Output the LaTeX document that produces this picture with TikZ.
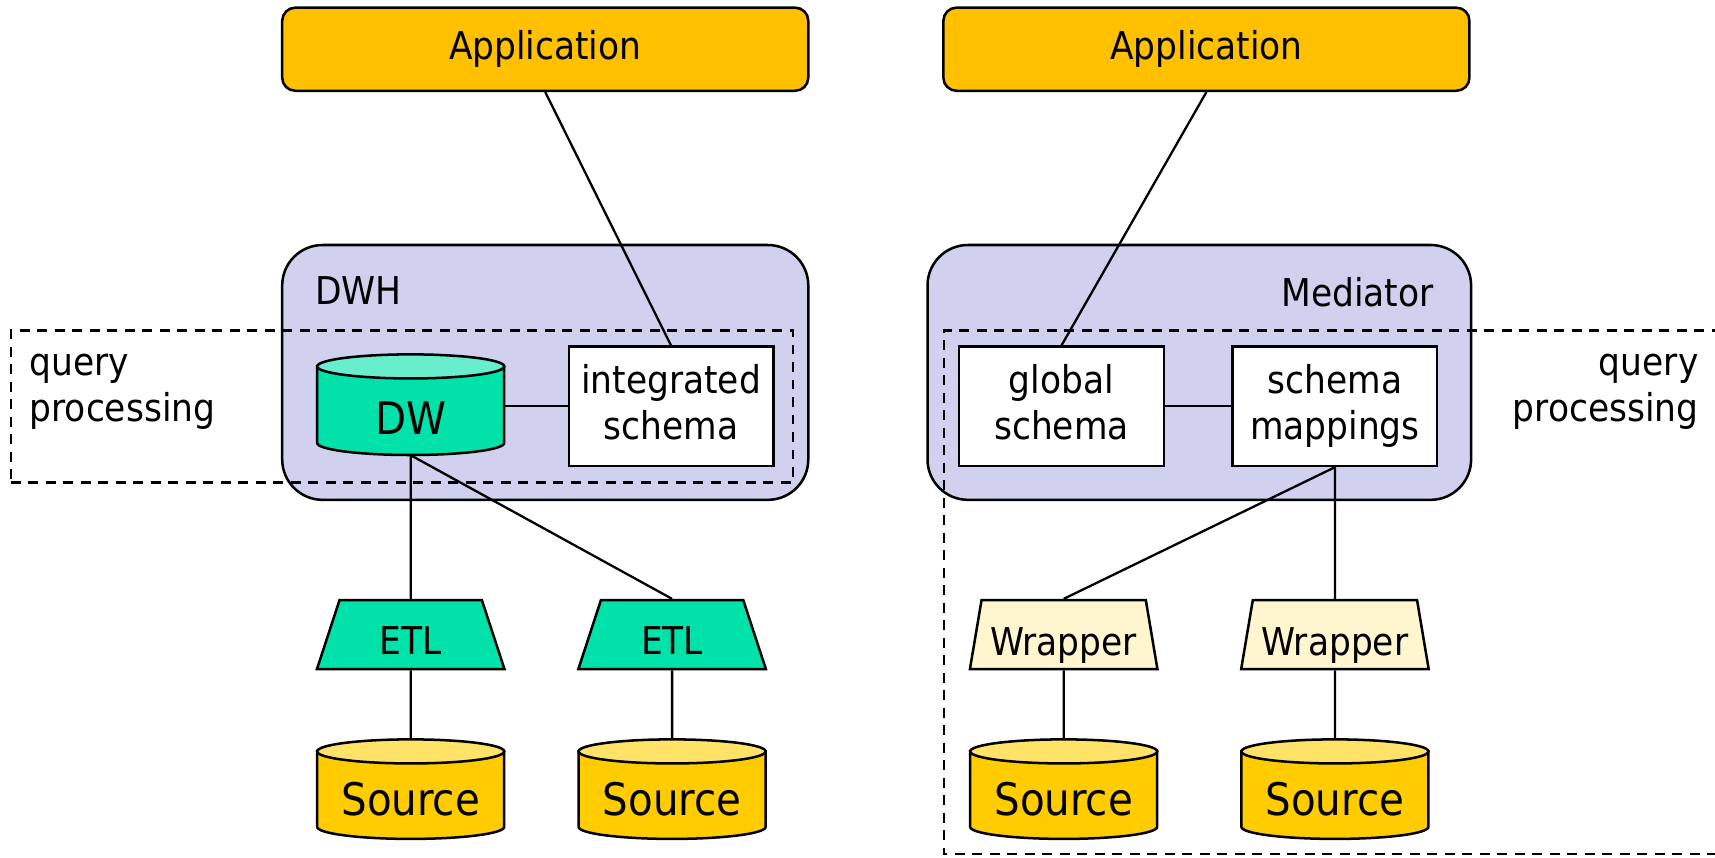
\documentclass[tikz,border=0pt]{standalone}
\usepackage{fontspec}
\setmainfont{DejaVu Sans Condensed}
\usetikzlibrary{shapes.geometric}

\definecolor{appfill}{RGB}{255,192,0}
\definecolor{boxfill}{RGB}{208,209,239}
\definecolor{dwbody}{RGB}{0,226,170}
\definecolor{dwlid}{RGB}{104,238,204}
\definecolor{srcbody}{RGB}{255,204,0}
\definecolor{srclid}{RGB}{255,226,104}
\definecolor{wrapfill}{RGB}{255,245,206}

% database drum: #1 centre x, #2 lid centre y, #3 base centre y, #4 body colour, #5 lid colour
\newcommand{\dbdrum}[5]{%
  \filldraw[outline, fill=#4] ({#1-85.5},#2) -- ({#1-85.5},#3)
    arc[start angle=180, end angle=0, x radius=85.5, y radius=11] -- ({#1+85.5},#2) -- cycle;
  \filldraw[outline, fill=#5] (#1,#2) ellipse[x radius=85.5, y radius=11];
}

\tikzset{
  outline/.style={draw=black, line width=2.3pt},
  txt/.style={font=\fontsize{35}{42}\selectfont, text=black},
  app/.style={outline, txt, fill=appfill, rounded corners=12pt,
    minimum width=481pt, minimum height=76pt, inner sep=0pt},
  container/.style={outline, fill=boxfill, rounded corners=37pt,
    minimum width=481pt, minimum height=233pt, inner sep=0pt},
  schemabox/.style={outline, txt, fill=white, align=center, inner sep=0pt,
    minimum width=187pt, minimum height=109pt,
    execute at begin node=\vphantom{lg}, execute at end node=\vphantom{lg}},
  trap/.style={outline, txt, shape=trapezium, trapezium left angle=76,
    trapezium right angle=76, trapezium stretches=true, inner sep=0pt,
    minimum width=171.5pt, minimum height=63pt, text depth=0pt},
  drumarea/.style={inner sep=0pt, minimum width=171pt},
  drumtext/.style={font=\fontsize{41}{48}\selectfont, text=black, inner sep=0pt},
  qp/.style={draw=black, line width=2.2pt, dash pattern=on 9pt off 7pt},
  tag/.style={txt, inner sep=0pt},
  link/.style={draw=black, line width=2.1pt},
}

\begin{document}
\begin{tikzpicture}[x=1pt, y=-1pt]
\useasboundingbox (0,0) rectangle (1568,784);
\clip (0,0) rectangle (1568,784);

% applications
\node[app] (app1) at (498.5,45) {Application};
\node[app] (app2) at (1103,45) {Application};

% warehouse and mediator frames
\node[container] (dwh) at (498.5,340.5) {};
\node[container, minimum width=497pt] (med) at (1096.5,340.5) {};
\node[tag, anchor=west] (dwhlabel) at (288,266) {DWH};
\node[tag, anchor=east] (medlabel) at (1311,267) {Mediator};

% query processing regions
\node[qp, inner sep=0pt, minimum width=715pt, minimum height=139pt] (qpleft) at (367.5,371.5) {};
\coordinate (qpTR) at (1590,302);
\coordinate (qpTL) at (863,302);
\coordinate (qpBL) at (863,781);
\coordinate (qpBR) at (1590,781);
\draw[qp] (qpTR) -- (qpTL) -- (qpBL) -- (qpBR);
\node[tag, align=left, anchor=west] (qplefttext) at (27,358.5) {query\\processing};
\node[tag, align=right, anchor=east] (qprighttext) at (1553,358.5) {query\\processing};

% warehouse side
\dbdrum{375.5}{335}{405}{dwbody}{dwlid}
\node[drumarea, minimum height=92pt] (dw) at (375.5,370) {};
\node[drumtext] (dwtext) at (375.5,382) {DW};
\node[schemabox] (integ) at (613.5,371.5) {integrated\\schema};

\node[trap, fill=dwbody, text height=36pt] (etl1) at (375.5,580.2) {ETL};
\node[trap, fill=dwbody, text height=36pt] (etl2) at (614.5,580.2) {ETL};

\dbdrum{375.5}{687}{756}{srcbody}{srclid}
\node[drumarea, minimum height=91pt] (src1) at (375.5,721.5) {};
\node[drumtext] (src1text) at (375.5,731) {Source};
\dbdrum{614.5}{687}{756}{srcbody}{srclid}
\node[drumarea, minimum height=91pt] (src2) at (614.5,721.5) {};
\node[drumtext] (src2text) at (614.5,731) {Source};

% mediator side
\node[schemabox] (glob) at (970.5,371.5) {global\\schema};
\node[schemabox] (map) at (1220.5,371.5) {schema\\mappings};

\node[trap, fill=wrapfill, text height=38pt] (wrap1) at (972.5,580.2) {Wrapper};
\node[trap, fill=wrapfill, text height=38pt] (wrap2) at (1220.5,580.2) {Wrapper};

\dbdrum{972.5}{687}{756}{srcbody}{srclid}
\node[drumarea, minimum height=91pt] (src3) at (972.5,721.5) {};
\node[drumtext] (src3text) at (972.5,731) {Source};
\dbdrum{1220.5}{687}{756}{srcbody}{srclid}
\node[drumarea, minimum height=91pt] (src4) at (1220.5,721.5) {};
\node[drumtext] (src4text) at (1220.5,731) {Source};

% connectors
\draw[link] (app1.south) -- (integ.north);
\draw[link] (app2.south) -- (glob.north);
\draw[link] (integ.west -| dw.east) -- (integ.west);
\draw[link] (glob.east) -- (map.west);
\draw[link] (dw.south) -- (etl1.north);
\draw[link] (dw.south) -- (etl2.north);
\draw[link] (etl1.south) -- (src1.north);
\draw[link] (etl2.south) -- (src2.north);
\draw[link] (map.south) -- (wrap1.north);
\draw[link] (map.south) -- (wrap2.north);
\draw[link] (wrap1.south) -- (src3.north);
\draw[link] (wrap2.south) -- (src4.north);
\end{tikzpicture}
\end{document}
